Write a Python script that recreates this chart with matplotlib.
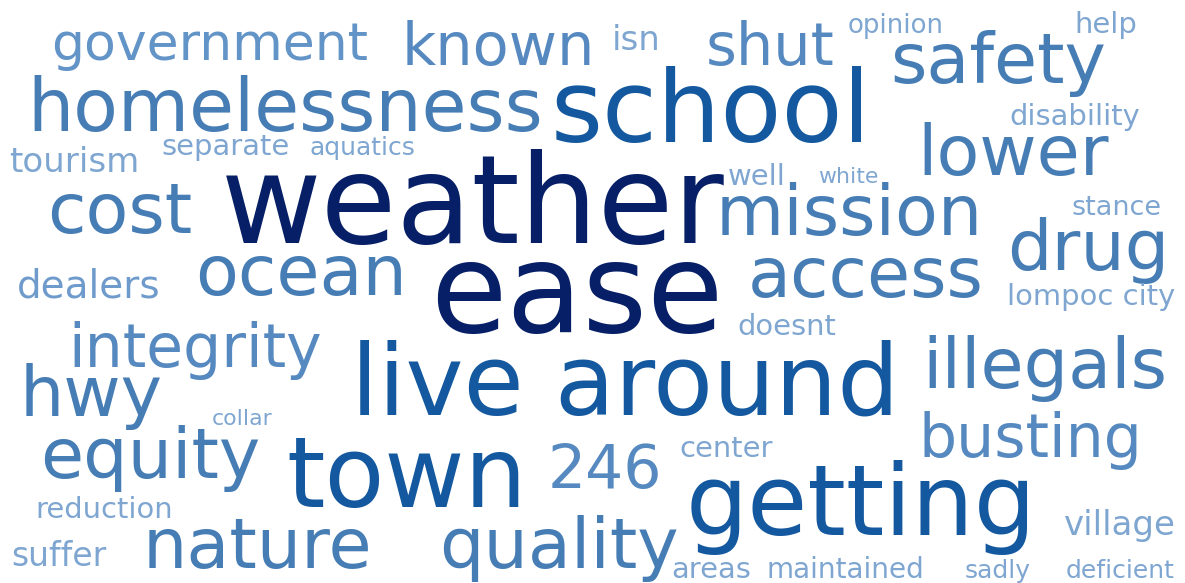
import matplotlib
matplotlib.use("Agg")
import matplotlib.pyplot as plt

# ---- data: words and their weights (relative frequency ~ font size in px) ----
words = ["weather", "ease", "school", "live around", "town", "getting",
         "homelessness", "cost", "ocean", "mission", "access", "safety", "lower",
         "drug", "illegals", "hwy", "equity", "nature", "quality",
         "known", "shut", "integrity", "busting", "246", "government",
         "dealers", "tourism", "suffer", "village", "isn",
         "separate", "help", "disability", "well", "lompoc city", "doesnt",
         "center", "reduction", "areas", "maintained", "opinion", "aquatics",
         "sadly", "deficient", "stance", "white", "collar"]
weights = [123, 124, 100, 98, 98, 98,
           73, 70, 70, 70, 70, 70, 70,
           70, 70, 70, 70, 70, 70,
           59, 59, 60, 60, 60, 52,
           39, 34, 33, 34, 34,
           29, 29, 29, 29, 29, 29,
           29, 29, 29, 28, 26, 25,
           25, 25, 27, 22, 22]

# ---- layout of the cloud (left edge x, baseline y in pixels) ----
layout_x = [227, 436, 556, 356, 291, 691,
            31, 51, 199, 719, 751, 894, 921,
            1011, 926, 23, 44, 146, 443,
            405, 709, 71, 921, 551, 54,
            19, 11, 13, 1066, 613,
            163, 1076, 1011, 729, 1008, 739,
            681, 37, 673, 768, 849, 311,
            966, 1067, 1073, 819, 213]
layout_y = [243, 332, 142, 415, 507, 535,
            131, 233, 295, 235, 297, 83, 175,
            270, 388, 416, 478, 568, 568,
            65, 65, 367, 457, 488, 60,
            298, 172, 566, 535, 50,
            155, 33, 125, 185, 305, 335,
            457, 518, 578, 578, 33, 155,
            578, 578, 215, 183, 425]


def color_for(w):
    if w >= 110:
        return "#061f66"
    if w >= 90:
        return "#14599f"
    if w >= 65:
        return "#477db5"
    if w >= 55:
        return "#5689c0"
    if w >= 45:
        return "#6394c7"
    if w >= 36:
        return "#6e9bcb"
    return "#7ea6d1"


W, H, DPI = 1185, 583, 100
fig = plt.figure(figsize=(W / DPI, H / DPI), dpi=DPI)
ax = fig.add_axes([0, 0, 1, 1])
ax.set_xlim(0, W)
ax.set_ylim(H, 0)
ax.axis("off")

for word, wt, x, y in zip(words, weights, layout_x, layout_y):
    ax.text(x - 0.05 * wt, y, word, fontsize=wt * 72 / DPI,
            family="DejaVu Sans", color=color_for(wt),
            ha="left", va="baseline")

fig.savefig("out.png", dpi=DPI, facecolor="white")
